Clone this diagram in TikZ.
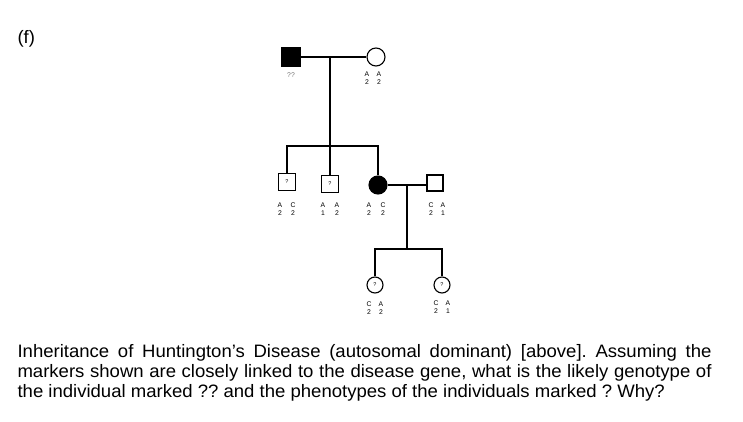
\documentclass[tikz,border=0pt]{standalone}
\usepackage{fontspec}
\setmainfont{Liberation Sans}
\newfontfamily\captionfont[FakeStretch=1.03]{Liberation Sans}
\frenchspacing
\begin{document}
\begin{tikzpicture}[x=1pt,y=-1pt,
  line width=1.1pt,
  male/.style={draw=black,rectangle,minimum size=17pt,inner sep=0pt,line width=1.1pt},
  female/.style={draw=black,circle,minimum size=18pt,inner sep=0pt,line width=1.1pt},
  aff/.style={fill=black},
  tag/.style={font=\fontsize{6.8}{7}\selectfont,inner sep=0pt,anchor=center},
  qm/.style={font=\fontsize{5.5}{6}\selectfont},
  body/.style={font=\captionfont\fontsize{18}{20}\selectfont,inner sep=0pt,anchor=base west}]
\useasboundingbox (0,0) rectangle (743,422);
\node[body] (f) at (17,44) {(f)};
% generation I
\node[male,aff,minimum size=18pt] (I1) at (291,57) {};
\node[female] (I2) at (376,57) {};
\draw (I1.east) -- (I2.west);
\coordinate (m1) at (330,57);
\coordinate (s1) at (330,146);
\draw (m1) -- (s1);
% generation II
\node[male,qm] (II1) at (287,182) {?};
\node[male,qm] (II2) at (330,184) {?};
\node[female,aff] (II3) at (378,185) {};
\node[male,minimum size=16pt] (II4) at (435,183) {};
\coordinate (s1l) at (287,146);
\coordinate (s1r) at (378,146);
\draw (II1.north) -- (s1l) -- (s1r) -- (II3.north);
\draw (s1) -- (II2.north);
\draw (II3.east) -- (II4.west |- II3.east);
\coordinate (m2) at (407,185);
\coordinate (s2) at (407,249);
\draw (m2) -- (s2);
% generation III
\node[female,qm,minimum size=16pt] (III1) at (375,285) {?};
\node[female,qm,minimum size=16pt] (III2) at (442,285) {?};
\coordinate (s2l) at (375,249);
\coordinate (s2r) at (442,249);
\draw (III1.north) -- (s2l) -- (s2r) -- (III2.north);
% marker labels
\node[tag,text=black!55] (g1) at (291,75) {??};
\node[tag] (g2a) at (367,74) {A}; \node[tag] (g2b) at (379,74) {A};
\node[tag] (g2c) at (367,82) {2}; \node[tag] (g2d) at (379,82) {2};
\node[tag] (c1a) at (280,205) {A}; \node[tag] (c1b) at (293,205) {C};
\node[tag] (c1c) at (280,213) {2}; \node[tag] (c1d) at (293,213) {2};
\node[tag] (c2a) at (323,205) {A}; \node[tag] (c2b) at (337,205) {A};
\node[tag] (c2c) at (323,213) {1}; \node[tag] (c2d) at (337,213) {2};
\node[tag] (c3a) at (369,205) {A}; \node[tag] (c3b) at (383,205) {C};
\node[tag] (c3c) at (369,213) {2}; \node[tag] (c3d) at (383,213) {2};
\node[tag] (c4a) at (431,205) {C}; \node[tag] (c4b) at (443,205) {A};
\node[tag] (c4c) at (431,213) {2}; \node[tag] (c4d) at (443,213) {1};
\node[tag] (d1a) at (369,304) {C}; \node[tag] (d1b) at (381,304) {A};
\node[tag] (d1c) at (369,312) {2}; \node[tag] (d1d) at (381,312) {2};
\node[tag] (d2a) at (436,303) {C}; \node[tag] (d2b) at (448,303) {A};
\node[tag] (d2c) at (436,311) {2}; \node[tag] (d2d) at (448,311) {1};
% caption
\node[body] (t1) at (17,357) {\makebox[694pt][s]{Inheritance of Huntington’s Disease (autosomal dominant) [above]. Assuming the}};
\node[body] (t2) at (17,377) {\makebox[694pt][s]{markers shown are closely linked to the disease gene, what is the likely genotype of}};
\node[body] (t3) at (17,397) {the individual marked ?? and the phenotypes of the individuals marked ? Why?};
\end{tikzpicture}
\end{document}
